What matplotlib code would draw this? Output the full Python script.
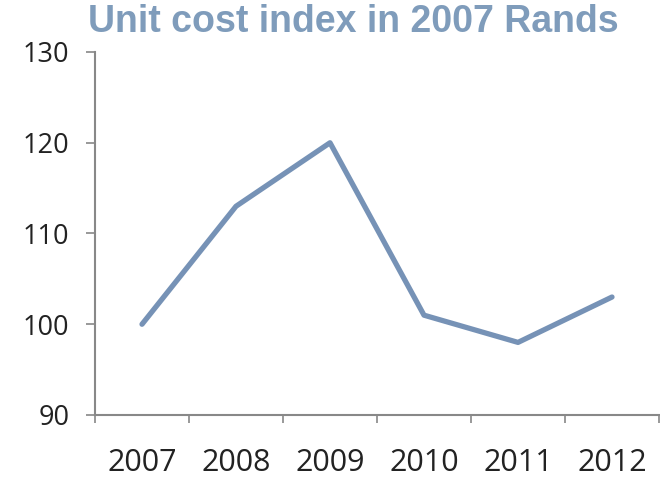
import matplotlib
matplotlib.use('Agg')
import matplotlib.pyplot as plt

years = ['2007', '2008', '2009', '2010', '2011', '2012']
cost_index = [100, 113, 120, 101, 98, 103]
y_ticks = [90, 100, 110, 120, 130]

plt.rcParams['font.family'] = ['Open Sans', 'DejaVu Sans']

fig = plt.figure(figsize=(6.6, 4.78), dpi=100)
ax = fig.add_axes([95 / 660, 1 - 415 / 478, 564 / 660, 363 / 478])

x = list(range(len(years)))
ax.plot(x, cost_index, color='#7692b6', linewidth=3.8, solid_capstyle='round',
        solid_joinstyle='round')

ax.set_xlim(-0.5, len(years) - 0.5)
ax.set_ylim(90, 130)
ax.set_yticks(y_ticks)
ax.set_yticklabels([str(t) for t in y_ticks], fontsize=19.5, color='#222222')

# category labels centred, tick marks on the boundaries
ax.set_xticks([i - 0.5 for i in range(len(years) + 1)])
ax.set_xticklabels([])
ax.set_xticks(x, minor=True)
ax.set_xticklabels(years, minor=True, fontsize=22, color='#222222')
ax.tick_params(axis='x', which='major', length=6, width=1.2, color='#888888', direction='out')
ax.tick_params(axis='x', which='minor', length=0, pad=24)
ax.tick_params(axis='y', length=6.5, width=1.2, color='#888888', direction='out', pad=12)

for side in ['top', 'right']:
    ax.spines[side].set_visible(False)
for side in ['left', 'bottom']:
    ax.spines[side].set_color('#888888')
    ax.spines[side].set_linewidth(1.5)

fig.text(88 / 660, 1 - 22 / 478, 'Unit cost index in 2007 Rands', fontsize=27,
         fontweight='bold', color='#7f9cbb', va='center', ha='left',
         family=['Liberation Sans', 'DejaVu Sans'])

fig.savefig('out.png', dpi=100)
